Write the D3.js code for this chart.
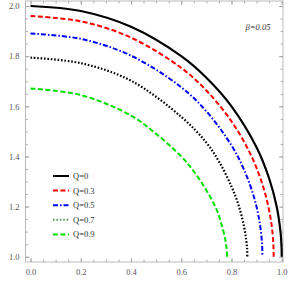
<!DOCTYPE html>
<html>
<head>
<meta charset="utf-8">
<script src="https://cdn.jsdelivr.net/npm/d3@7"></script>
<style>
  body { margin: 0; background: #fff; }
  svg { display: block; font-family: "Liberation Serif", "DejaVu Serif", serif; }
</style>
</head>
<body>
<svg width="289" height="287"></svg>
<script>
// values
var labels = ['Q=0', 'Q=0.3', 'Q=0.5', 'Q=0.7', 'Q=0.9'];
var xs0 = [0, 0.2, 0.4, 0.6, 0.7, 0.8, 0.9, 0.95, 0.98, 0.995, 0.999, 1.0];
var ys0 = [2.0, 1.98, 1.917, 1.8, 1.714, 1.6, 1.436, 1.312, 1.199, 1.10, 1.045, 1.0];
var xs1 = [0, 0.2, 0.4, 0.6, 0.7, 0.8, 0.88, 0.93, 0.955, 0.964, 0.967, 0.968];
var ys1 = [1.96, 1.939, 1.874, 1.753, 1.663, 1.54, 1.40, 1.266, 1.157, 1.087, 1.043, 1.0];
var xs2 = [0, 0.2, 0.4, 0.6, 0.7, 0.8, 0.85, 0.89, 0.91, 0.919, 0.922, 0.923];
var ys2 = [1.89, 1.869, 1.802, 1.676, 1.58, 1.444, 1.347, 1.236, 1.149, 1.083, 1.042, 1.0];
var xs3 = [0, 0.2, 0.4, 0.6, 0.7, 0.75, 0.8, 0.83, 0.85, 0.858, 0.862, 0.863];
var ys3 = [1.794, 1.772, 1.702, 1.558, 1.455, 1.38, 1.28, 1.20, 1.12, 1.07, 1.035, 1.0];
var xs4 = [0, 0.2, 0.4, 0.5, 0.6, 0.65, 0.7, 0.74, 0.76, 0.775, 0.78, 0.783];
var ys4 = [1.671, 1.645, 1.563, 1.49, 1.40, 1.34, 1.265, 1.19, 1.13, 1.07, 1.035, 1.0];
var xTicks = [0, 0.2, 0.4, 0.6, 0.8, 1.0];
var yTicks = [1.0, 1.2, 1.4, 1.6, 1.8, 2.0];

var colors = ['#000000', '#ff0000', '#0000ff', '#000000', '#00dd00'];
var legendColors = ['#000000', '#ff0000', '#0000ff', '#5a9a5a', '#00dd00'];
var dashes = [null, '5,2.5', '5,2,1.5,2', '1.6,1.8', '5,2.5'];
var widths = [2.2, 2, 2, 2.2, 2];

var series = [[xs0, ys0], [xs1, ys1], [xs2, ys2], [xs3, ys3], [xs4, ys4]].map(function(p, i){
    return { name: labels[i], pts: p[0].map(function(x, j){ return [x, p[1][j]]; }) };
});

var svg = d3.select('svg');

var pLeft = 25.5, pRight = 283, pTop = 1, pBottom = 262;
var scaleX = d3.scaleLinear().domain([-0.02, 1.005]).range([pLeft, pRight]);
var scaleY = d3.scaleLinear().domain([0.979, 2.02]).range([pBottom, pTop]);

var minorX = d3.range(0, 1.0001, 0.05);
var minorY = d3.range(1.0, 2.0001, 0.05);

function styleAxis(g){
    g.select('.domain').remove();
    g.selectAll('line').attr('stroke', '#999').attr('stroke-width', 0.8);
    g.selectAll('text').attr('fill', '#555').attr('font-size', 8.5)
        .attr('font-family', '"Liberation Serif", serif');
}

// bottom
svg.append('g').attr('transform', 'translate(0,' + pBottom + ')')
    .call(d3.axisBottom(scaleX).tickValues(minorX).tickSize(-2.5).tickFormat(''))
    .call(styleAxis);
svg.append('g').attr('transform', 'translate(0,' + pBottom + ')')
    .call(d3.axisBottom(scaleX).tickValues(xTicks).tickSize(-4).tickPadding(7).tickFormat(d3.format('.1f')))
    .call(styleAxis);
// top
svg.append('g').attr('transform', 'translate(0,' + pTop + ')')
    .call(d3.axisTop(scaleX).tickValues(minorX).tickSize(-2.5).tickFormat(''))
    .call(styleAxis);
svg.append('g').attr('transform', 'translate(0,' + pTop + ')')
    .call(d3.axisTop(scaleX).tickValues(xTicks).tickSize(-4).tickFormat(''))
    .call(styleAxis);
// left
svg.append('g').attr('transform', 'translate(' + pLeft + ',0)')
    .call(d3.axisLeft(scaleY).tickValues(minorY).tickSize(-2.5).tickFormat(''))
    .call(styleAxis);
svg.append('g').attr('transform', 'translate(' + pLeft + ',0)')
    .call(d3.axisLeft(scaleY).tickValues(yTicks).tickSize(-4).tickPadding(6).tickFormat(d3.format('.1f')))
    .call(styleAxis);
// right
svg.append('g').attr('transform', 'translate(' + pRight + ',0)')
    .call(d3.axisRight(scaleY).tickValues(minorY).tickSize(-2.5).tickFormat(''))
    .call(styleAxis);
svg.append('g').attr('transform', 'translate(' + pRight + ',0)')
    .call(d3.axisRight(scaleY).tickValues(yTicks).tickSize(-4).tickFormat(''))
    .call(styleAxis);

svg.append('rect')
    .attr('x', pLeft).attr('y', pTop)
    .attr('width', pRight - pLeft).attr('height', pBottom - pTop)
    .attr('fill', 'none').attr('stroke', '#aaa').attr('stroke-width', 0.8);

var line = d3.line()
    .x(function(d){ return scaleX(d[0]); })
    .y(function(d){ return scaleY(d[1]); })
    .curve(d3.curveCatmullRom.alpha(0.5));

svg.selectAll('path.curve')
    .data(series)
    .enter()
    .append('path')
    .attr('class', 'curve')
    .attr('d', function(d){ return line(d.pts); })
    .attr('fill', 'none')
    .attr('stroke', function(d, i){ return colors[i]; })
    .attr('stroke-width', function(d, i){ return widths[i]; })
    .attr('stroke-dasharray', function(d, i){ return dashes[i]; });

// legend
var legend = svg.append('g').selectAll('g')
    .data(series)
    .enter()
    .append('g')
    .attr('transform', function(d, i){ return 'translate(53,' + (176 + i * 14.6) + ')'; });
legend.append('line')
    .attr('x1', 0).attr('x2', 16)
    .attr('stroke', function(d, i){ return legendColors[i]; })
    .attr('stroke-width', 2)
    .attr('stroke-dasharray', function(d, i){ return dashes[i]; });
legend.append('text')
    .attr('x', 20).attr('y', 3)
    .attr('font-size', 8.5)
    .attr('fill', '#333')
    .text(function(d){ return d.name; });

svg.append('text')
    .attr('x', 258).attr('y', 30)
    .attr('text-anchor', 'middle')
    .attr('font-size', 8.5)
    .attr('font-style', 'italic')
    .attr('fill', '#333')
    .text('β=0.05');
</script>
</body>
</html>
